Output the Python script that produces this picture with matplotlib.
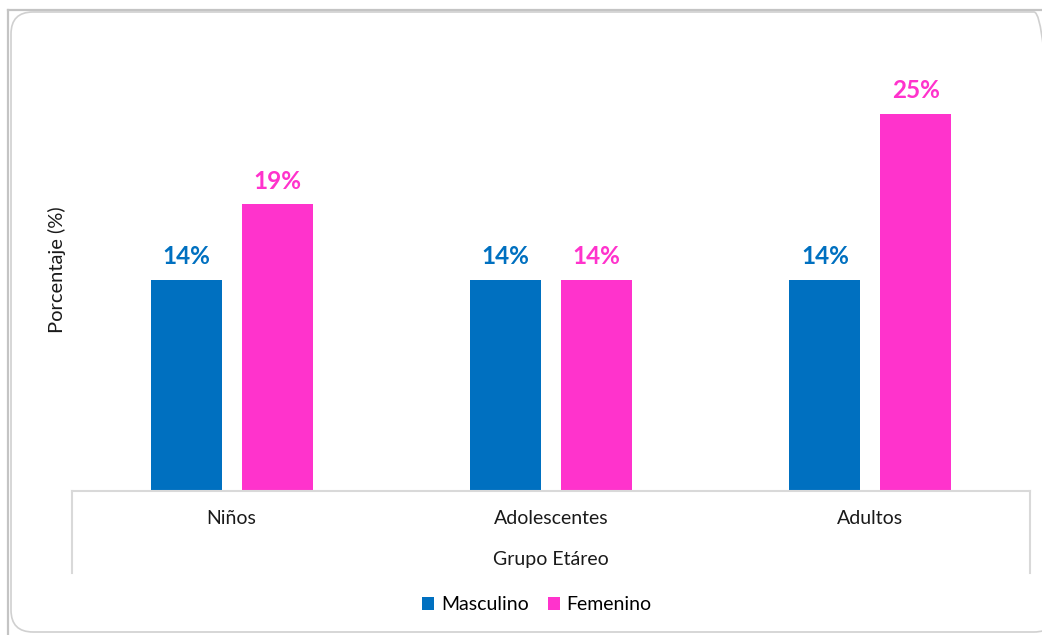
import matplotlib
matplotlib.use("Agg")
import matplotlib.pyplot as plt
import numpy as np
from matplotlib.patches import FancyBboxPatch, Patch
from matplotlib.lines import Line2D

plt.rcParams['font.family'] = ['Lato', 'DejaVu Sans']

grupos = ["Niños", "Adolescentes", "Adultos"]
masculino = [14, 14, 14]
femenino = [19, 14, 25]
series = ["Masculino", "Femenino"]
colores = ["#0070C0", "#FF33CC"]

fig = plt.figure(figsize=(10.42, 6.35), dpi=100)

# marco exterior y borde redondeado del área del gráfico
fig.add_artist(Line2D([0.08, 10.42], [6.25, 6.25], transform=fig.dpi_scale_trans,
                      color="#C4C4C4", lw=1.6))
fig.add_artist(Line2D([0.08, 0.08], [0, 6.25], transform=fig.dpi_scale_trans,
                      color="#C4C4C4", lw=1.6))
fig.add_artist(FancyBboxPatch((0.11, 0.03), 10.45, 6.2,
                              boxstyle="round,pad=0,rounding_size=0.22",
                              transform=fig.dpi_scale_trans,
                              facecolor="none", edgecolor="#D0D0D0", lw=1.2))

ax = fig.add_axes([72 / 1042, 1 - 491 / 635, 958 / 1042, 453 / 635])
x = np.arange(len(grupos))
ancho = 0.222
desp = 0.1425

b1 = ax.bar(x - desp, masculino, ancho, color=colores[0])
b2 = ax.bar(x + desp, femenino, ancho, color=colores[1])

for barras, valores, c in [(b1, masculino, colores[0]), (b2, femenino, colores[1])]:
    for rect, v in zip(barras, valores):
        ax.annotate(f"{v}%", (rect.get_x() + rect.get_width() / 2, v),
                    xytext=(0, 8), textcoords="offset points",
                    ha="center", va="bottom", fontsize=17.5, fontweight="bold", color=c)

ax.set_xlim(-0.5, 2.5)
ax.set_ylim(0, 30)
ax.set_yticks([])
ax.set_xticks(x)
ax.set_xticklabels(grupos, fontsize=14, color="#1A1A1A")
ax.tick_params(axis="x", length=0, pad=14)

for s in ["top", "right", "left"]:
    ax.spines[s].set_visible(False)
ax.spines["bottom"].set_color("#D9D9D9")
ax.spines["bottom"].set_linewidth(1.5)

# líneas verticales de la tabla del eje x
for xe in [0, 1]:
    ax.add_line(Line2D([xe, xe], [0, -82 / 453], transform=ax.transAxes,
                       color="#D9D9D9", lw=1.5, clip_on=False))

ax.text(0.5, -68 / 453, "Grupo Etáreo", transform=ax.transAxes,
        ha="center", va="center", fontsize=14, color="#1A1A1A")

fig.text(57 / 1042, 1 - 270 / 635, "Porcentaje (%)", rotation=90,
         ha="center", va="center", fontsize=14.5, color="#1A1A1A")

handles = [Patch(facecolor=c, label=s) for c, s in zip(colores, series)]
fig.legend(handles=handles, loc="center", bbox_to_anchor=(537 / 1042, 1 - 605 / 635),
           ncol=2, frameon=False, fontsize=14, handlelength=0.6, handleheight=0.6,
           handletextpad=0.35, columnspacing=1.0)

fig.savefig("out.png", dpi=100)
